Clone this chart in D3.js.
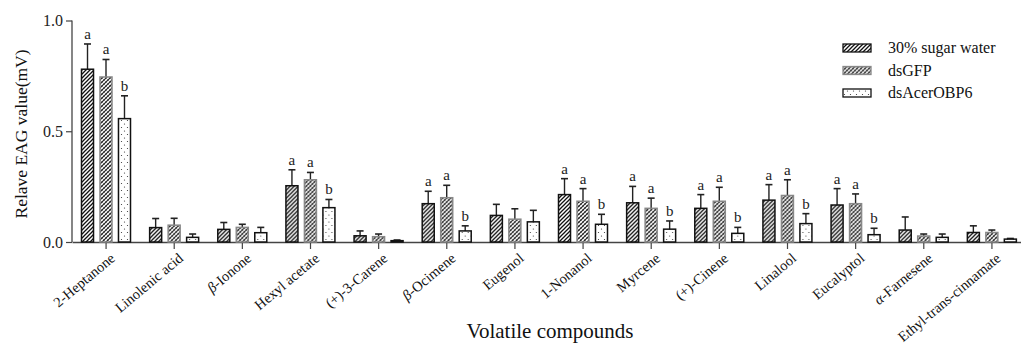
<!DOCTYPE html>
<html>
<head>
<meta charset="utf-8">
<script src="https://cdn.jsdelivr.net/npm/d3@7"></script>
<style>
  body { margin: 0; background: #fff; }
  svg { display: block; font-family: "Liberation Serif", "Times New Roman", serif; }
</style>
</head>
<body>
<script>
// compounds on the x axis
const compounds = ["2-Heptanone", "Linolenic acid", "β-Ionone", "Hexyl acetate", "(+)-3-Carene",
  "β-Ocimene", "Eugenol", "1-Nonanol", "Myrcene", "(+)-Cinene", "Linalool", "Eucalyptol",
  "α-Farnesene", "Ethyl-trans-cinnamate"];
const treatments = ["30% sugar water", "dsGFP", "dsAcerOBP6"];

// mean values
const sugarWater = [0.78, 0.065, 0.057, 0.254, 0.028, 0.173, 0.120, 0.214, 0.177, 0.152, 0.189, 0.167, 0.054, 0.043];
const dsGFP      = [0.745, 0.076, 0.066, 0.281, 0.024, 0.200, 0.103, 0.184, 0.152, 0.184, 0.210, 0.173, 0.027, 0.043];
const dsOBP6     = [0.557, 0.021, 0.042, 0.155, 0.006, 0.050, 0.091, 0.080, 0.058, 0.039, 0.083, 0.033, 0.021, 0.013];
// error bar tops (mean + SE)
const sugarWaterErr = [0.894, 0.106, 0.088, 0.326, 0.050, 0.229, 0.170, 0.286, 0.251, 0.214, 0.259, 0.241, 0.113, 0.073];
const dsGFPErr      = [0.824, 0.107, 0.080, 0.314, 0.036, 0.256, 0.150, 0.241, 0.198, 0.247, 0.281, 0.217, 0.036, 0.054];
const dsOBP6Err     = [0.660, 0.036, 0.066, 0.192, 0.009, 0.073, 0.143, 0.125, 0.095, 0.066, 0.128, 0.062, 0.036, 0.016];
// significance letters ("" = none)
const letters = [["a","a","b"], ["","",""], ["","",""], ["a","a","b"], ["","",""], ["a","a","b"], ["","",""],
  ["a","a","b"], ["a","a","b"], ["a","a","b"], ["a","a","b"], ["a","a","b"], ["","",""], ["","",""]];
const yTicks = [0, 0.5, 1.0];

const means = [sugarWater, dsGFP, dsOBP6];
const errs = [sugarWaterErr, dsGFPErr, dsOBP6Err];

const width = 1021, height = 350;
const svg = d3.select("body").append("svg")
    .attr("width", width)
    .attr("height", height);

// patterns for the three treatments
const defs = svg.append("defs");
const p1 = defs.append("pattern").attr("id", "pat0")
    .attr("patternUnits", "userSpaceOnUse").attr("width", 4).attr("height", 4);
p1.append("rect").attr("width", 4).attr("height", 4).attr("fill", "#fff");
p1.append("path").attr("d", "M-1,1 l2,-2 M0,4 l4,-4 M3,5 l2,-2")
    .attr("stroke", "#111").attr("stroke-width", 1.3);

const p2 = defs.append("pattern").attr("id", "pat1")
    .attr("patternUnits", "userSpaceOnUse").attr("width", 4).attr("height", 4);
p2.append("rect").attr("width", 4).attr("height", 4).attr("fill", "#fff");
p2.append("path").attr("d", "M-1,1 l2,-2 M0,4 l4,-4 M3,5 l2,-2")
    .attr("stroke", "#222").attr("stroke-width", 1.2);
p2.append("path").attr("d", "M0,0 l4,4")
    .attr("stroke", "#555").attr("stroke-width", 0.7);

const p3 = defs.append("pattern").attr("id", "pat2")
    .attr("patternUnits", "userSpaceOnUse").attr("width", 6).attr("height", 7);
p3.append("rect").attr("width", 6).attr("height", 7).attr("fill", "#fff");
p3.append("circle").attr("cx", 1.5).attr("cy", 1.5).attr("r", 0.6).attr("fill", "#333");
p3.append("circle").attr("cx", 4.5).attr("cy", 5).attr("r", 0.6).attr("fill", "#333");

const strokes = ["#111", "#888", "#111"];

// scales
const x = d3.scaleBand().domain(compounds).range([72, 1026]).paddingInner(0).paddingOuter(0);
const xSub = d3.scaleBand().domain([0, 1, 2]).range([9.5, 58.5]).paddingInner(0.35).paddingOuter(0);
const y = d3.scaleLinear().domain([0, 1]).range([242, 20.5]);

// axes
svg.append("g")
    .attr("transform", "translate(72,0)")
    .call(d3.axisLeft(y).tickValues(yTicks).tickFormat(d3.format(".1f")).tickSize(6).tickPadding(3))
    .call(g => g.select(".domain").attr("d", "M0,20.5V242").attr("stroke", "#444").attr("stroke-width", 1.3))
    .call(g => g.selectAll(".tick line").attr("stroke", "#444").attr("stroke-width", 1.2))
    .call(g => g.selectAll(".tick text").attr("font-family", "Liberation Serif").attr("font-size", 16).attr("fill", "#222"));

const xAxis = svg.append("g")
    .attr("transform", "translate(0,242)")
    .call(d3.axisBottom(x).tickSize(7).tickPadding(4).tickSizeOuter(0))
    .call(g => g.select(".domain").attr("stroke", "#444").attr("stroke-width", 1.3))
    .call(g => g.selectAll(".tick line").attr("stroke", "#444").attr("stroke-width", 1.2));
xAxis.selectAll(".tick text")
    .attr("font-family", "Liberation Serif")
    .attr("font-size", 14.5)
    .attr("fill", "#111")
    .attr("text-anchor", "end")
    .attr("dy", "0.3em")
    .attr("transform", "translate(0,6) rotate(-40)")
    .each(function(d) {
      // italic greek prefix
      const m = d.match(/^([βα])(.*)$/);
      if (m) {
        const t = d3.select(this).text("");
        t.append("tspan").attr("font-style", "italic").text(m[1]);
        t.append("tspan").text(m[2]);
      }
    });

// bars
const groups = svg.append("g").selectAll("g")
    .data(compounds)
    .join("g")
    .attr("transform", d => `translate(${x(d)},0)`);

groups.each(function(c, i) {
  const g = d3.select(this);
  [0, 1, 2].forEach(k => {
    const bx = xSub(k), bw = xSub.bandwidth();
    const v = means[k][i], e = errs[k][i];
    const cx = bx + bw / 2;
    // error bar
    g.append("line").attr("x1", cx).attr("x2", cx).attr("y1", y(v)).attr("y2", y(e))
        .attr("stroke", "#222").attr("stroke-width", 1.4);
    g.append("line").attr("x1", cx - 3.5).attr("x2", cx + 3.5).attr("y1", y(e)).attr("y2", y(e))
        .attr("stroke", "#222").attr("stroke-width", 1.6);
    g.append("rect")
        .attr("x", bx).attr("y", y(v))
        .attr("width", bw).attr("height", y(0) - y(v))
        .attr("fill", `url(#pat${k})`)
        .attr("stroke", strokes[k]).attr("stroke-width", 1.5);
    if (letters[i][k]) {
      g.append("text")
          .attr("x", cx).attr("y", y(e) - 5)
          .attr("text-anchor", "middle")
          .attr("font-size", 15)
          .attr("fill", "#222")
          .text(letters[i][k]);
    }
  });
});

// axis titles
svg.append("text")
    .attr("transform", "translate(27,134) rotate(-90)")
    .attr("text-anchor", "middle")
    .attr("font-size", 17.5)
    .attr("fill", "#111")
    .text("Relave EAG value(mV)");

svg.append("text")
    .attr("x", 550).attr("y", 338)
    .attr("text-anchor", "middle")
    .attr("font-size", 21)
    .attr("fill", "#111")
    .text("Volatile compounds");

// legend
const legend = svg.append("g").selectAll("g")
    .data(treatments)
    .join("g")
    .attr("transform", (d, k) => `translate(843,${48 + k * 22.5})`);
legend.append("rect")
    .attr("x", 0).attr("y", -4).attr("width", 28).attr("height", 8)
    .attr("fill", (d, k) => `url(#pat${k})`)
    .attr("stroke", (d, k) => strokes[k]).attr("stroke-width", 1.3);
legend.append("text")
    .attr("x", 45).attr("y", 5)
    .attr("font-size", 16)
    .attr("fill", "#111")
    .text(d => d);
</script>
</body>
</html>
